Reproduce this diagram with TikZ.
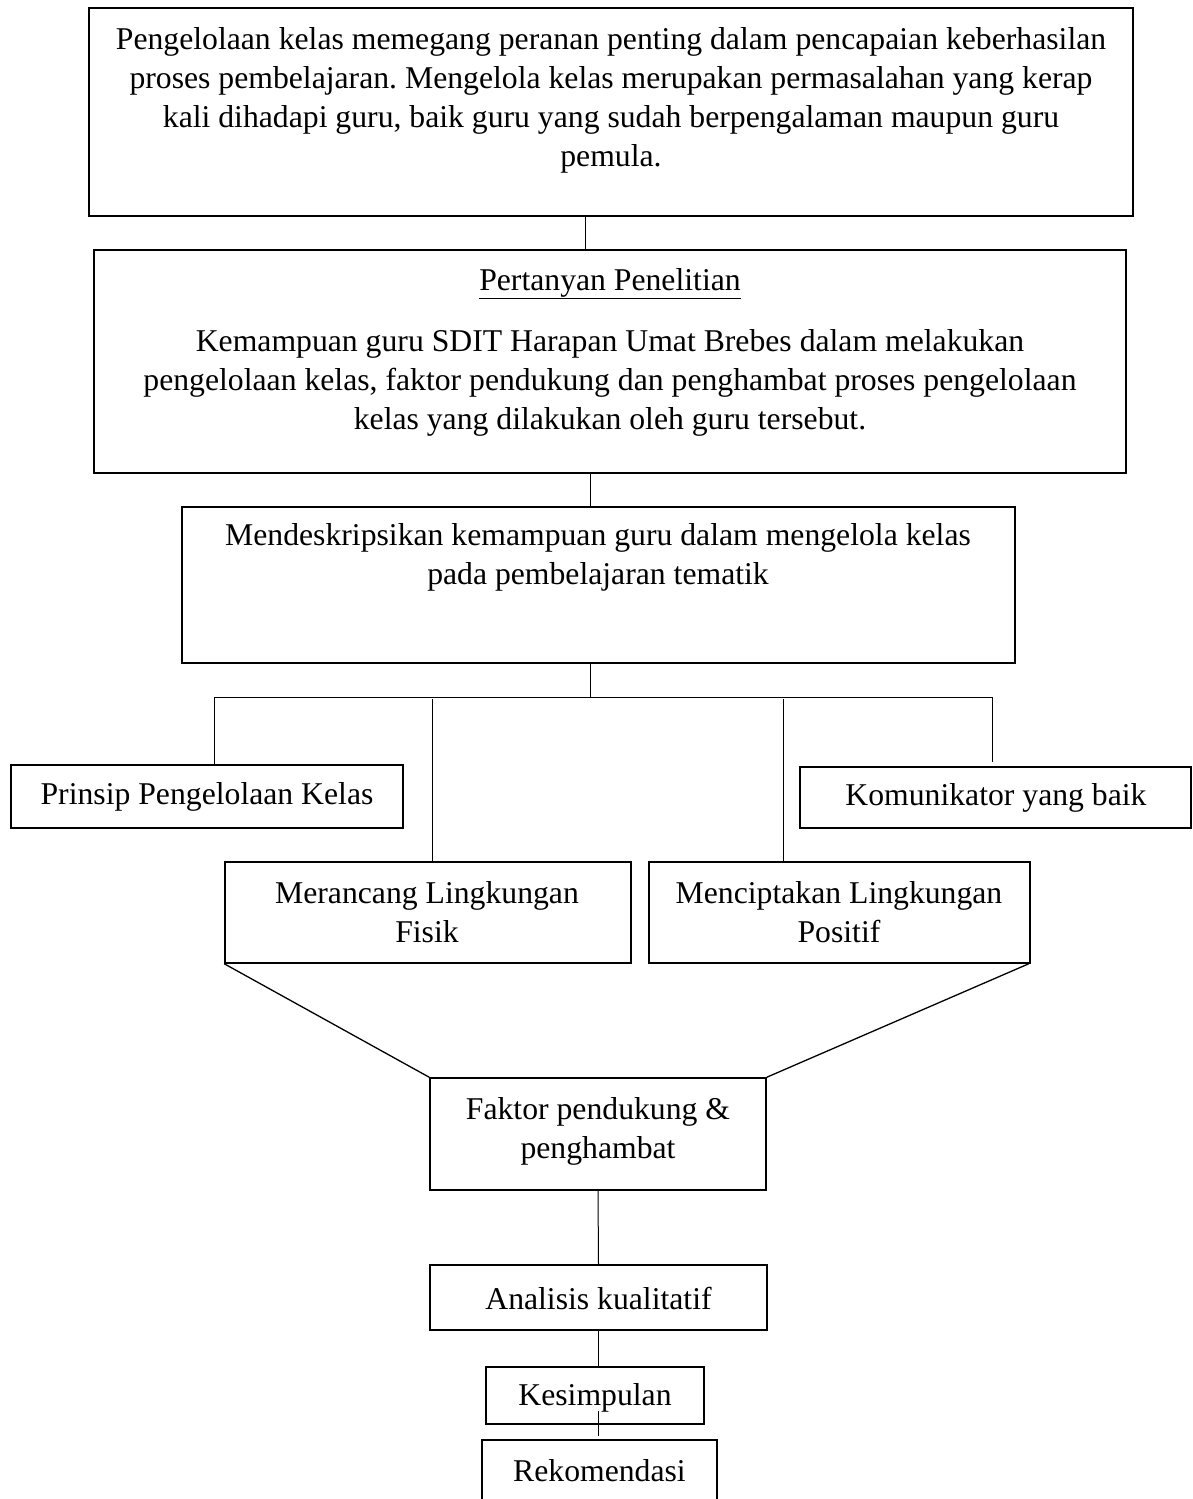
\documentclass[tikz,border=0pt]{standalone}
\usepackage{fontspec}
\setmainfont{Liberation Serif}
\frenchspacing
\begin{document}
\begin{tikzpicture}[x=1pt,y=-1pt,
  boxn/.style={draw, line width=1.5pt, rectangle, inner sep=0pt},
  txt/.style={align=center, inner sep=0pt, font=\fontsize{31.7}{39}\selectfont},
  conn/.style={line width=1pt},
  slant/.style={line width=1.3pt}]
\useasboundingbox (0,0) rectangle (1192,1499);
% boxes
\node[boxn, minimum width=1044pt, minimum height=208pt] (b1) at (611,112) {};
\node[boxn, minimum width=1032pt, minimum height=223pt] (b2) at (610,361.5) {};
\node[boxn, minimum width=833pt, minimum height=156pt] (b3) at (598.5,585) {};
\node[boxn, minimum width=392pt, minimum height=63pt] (pr) at (207,796.5) {};
\node[boxn, minimum width=391pt, minimum height=61pt] (kom) at (995.5,797.5) {};
\node[boxn, minimum width=406pt, minimum height=101pt] (mer) at (428,912.5) {};
\node[boxn, minimum width=381pt, minimum height=101pt] (men) at (839.5,912.5) {};
\node[boxn, minimum width=336pt, minimum height=112pt] (fak) at (598,1134) {};
\node[boxn, minimum width=337pt, minimum height=65pt] (ana) at (598.5,1297.5) {};
\node[boxn, minimum width=218pt, minimum height=57pt] (kes) at (595,1395.5) {};
\node[boxn, minimum width=235pt, minimum height=80pt] (rek) at (599.5,1480) {};
% texts
\node[txt] (t1) at (611,100) {Pengelolaan kelas memegang peranan penting dalam pencapaian keberhasilan\\proses pembelajaran. Mengelola kelas merupakan permasalahan yang kerap\\kali dihadapi guru, baik guru yang sudah berpengalaman maupun guru\\pemula.};
\node[txt] (t2) at (610,352) {\underline{Pertanyan Penelitian}\\[22pt]Kemampuan guru SDIT Harapan Umat Brebes dalam melakukan\\pengelolaan kelas, faktor pendukung dan penghambat proses pengelolaan\\kelas yang dilakukan oleh guru tersebut.};
\node[txt] (t3) at (598,557.5) {Mendeskripsikan kemampuan guru dalam mengelola kelas\\pada pembelajaran tematik};
\node[txt] (t4) at (207,797) {Prinsip Pengelolaan Kelas};
\node[txt] (t5) at (996,797.5) {Komunikator yang baik};
\node[txt] (t6) at (427,912) {Merancang Lingkungan\\Fisik};
\node[txt] (t7) at (839,912) {Menciptakan Lingkungan\\Positif};
\node[txt] (t8) at (598,1131.5) {Faktor pendukung \&\\penghambat};
\node[txt] (t9) at (598.5,1298.5) {Analisis kualitatif};
\node[txt] (t10) at (595,1397.5) {Kesimpulan};
\node[txt] (t11) at (599.5,1470.5) {Rekomendasi};
% connectors
\coordinate (j) at (590,697);
\coordinate (hL) at (214,697);
\coordinate (hR) at (992,697);
\coordinate (mL) at (432,699);
\coordinate (mC) at (783,699);
\draw[conn] ([xshift=-26pt]b1.south) -- ([xshift=-25pt]b2.north);
\draw[conn] (b2.south -| j) -- (b3.north -| j);
\draw[conn] (b3.south -| j) -- (j);
\draw[conn] (hL) -- (hR);
\draw[conn] (hL) -- (hL |- pr.north);
\draw[conn] (hR) -- ([yshift=4pt]hR |- kom.north);
\draw[conn] (mL) -- (mL |- mer.north);
\draw[conn] (mC) -- (mC |- men.north);
\draw[slant] (mer.south west) -- (fak.north west);
\draw[slant] ([xshift=-2pt]men.south east) -- (fak.north east);
\draw[conn] (fak.south) -- (ana.north);
\draw[conn] (ana.south) -- (ana.south |- kes.north);
\draw[conn] ([yshift=14pt]kes.south -| ana.south) -- ([yshift=3pt]rek.north -| ana.south);
\end{tikzpicture}
\end{document}
